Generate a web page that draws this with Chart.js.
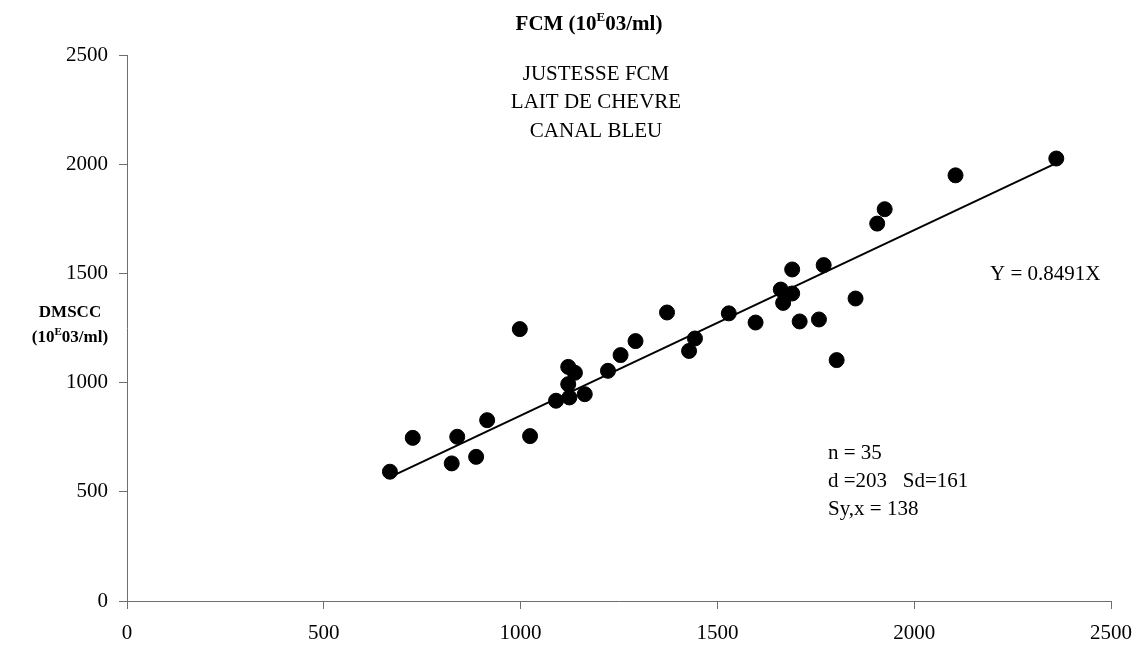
<!DOCTYPE html>
<html lang="fr">
<head>
  <meta charset="UTF-8" />
  <title>Justesse FCM - lait de chèvre</title>
  <script src="https://cdn.jsdelivr.net/npm/chart.js"></script>
  <style>
    html, body {
      margin: 0;
      padding: 0;
      background: #fff;
    }
    canvas {
      display: block;
    }
  </style>
</head>
<body>
  <canvas id="fcmChart" width="1144" height="648"></canvas>

  <script>
    // valeurs (FCM en x, DMSCC en y, 10E03/ml)
    const fcm = [668, 726, 825, 839, 887, 915, 998, 1024, 1090, 1121, 1138, 1121,
      1124, 1163, 1222, 1254, 1292, 1372, 1443, 1428, 1529, 1597, 1661, 1690,
      1690, 1667, 1709, 1758, 1770, 1851, 1803, 1906, 1925, 2105, 2361];
    const dmscc = [592, 747, 630, 752, 660, 828, 1245, 755, 917, 1072, 1045, 993,
      932, 947, 1054, 1126, 1190, 1321, 1202, 1145, 1317, 1275, 1426, 1518,
      1408, 1365, 1280, 1289, 1538, 1385, 1103, 1728, 1794, 1949, 2026];

    // droite Y = 0.8491X, du premier au dernier point
    const droiteX = [668, 2361];
    const droiteY = [567, 2005];

    const axisTicks = [0, 500, 1000, 1500, 2000, 2500];
    const infoLines = ['JUSTESSE FCM', 'LAIT DE CHEVRE', 'CANAL BLEU'];
    const statLines = ['n = 35', 'd =203   Sd=161', 'Sy,x = 138'];
    const equation = 'Y = 0.8491X';

    const serif = '"Liberation Serif", "Times New Roman", serif';

    // texte avec un "E" en exposant
    function drawSup(ctx, before, sup, after, cx, cy, size) {
      const big = 'bold ' + size + 'px ' + serif;
      const small = 'bold ' + Math.round(size * 0.62) + 'px ' + serif;
      ctx.font = big;
      const w1 = ctx.measureText(before).width;
      const w3 = ctx.measureText(after).width;
      ctx.font = small;
      const w2 = ctx.measureText(sup).width;
      let x = cx - (w1 + w2 + w3) / 2;
      ctx.textAlign = 'left';
      ctx.textBaseline = 'middle';
      ctx.font = big;
      ctx.fillText(before, x, cy);
      x += w1;
      ctx.font = small;
      ctx.fillText(sup, x, cy - size * 0.33);
      x += w2;
      ctx.font = big;
      ctx.fillText(after, x, cy);
    }

    const textPlugin = {
      id: 'textes',
      afterDraw(chart) {
        const ctx = chart.ctx;
        ctx.save();
        ctx.fillStyle = '#000';

        // titre
        drawSup(ctx, 'FCM (10', 'E', '03/ml)', 589, 25, 21);

        // titre axe y
        ctx.font = 'bold 17px ' + serif;
        ctx.textAlign = 'center';
        ctx.textBaseline = 'middle';
        ctx.fillText('DMSCC', 70, 313);
        drawSup(ctx, '(10', 'E', '03/ml)', 70, 338, 17);

        ctx.font = '21px ' + serif;
        ctx.textAlign = 'center';
        ctx.textBaseline = 'middle';
        infoLines.forEach((t, i) => ctx.fillText(t, 596, 74 + i * 28.5));

        ctx.textAlign = 'left';
        statLines.forEach((t, i) => ctx.fillText(t, 828, 453 + i * 28));
        ctx.fillText(equation, 990, 274);

        ctx.restore();
      }
    };

    const axisColor = '#6e6e6e';
    const tickFont = { family: serif, size: 21 };

    const ctx = document.getElementById('fcmChart').getContext('2d');
    new Chart(ctx, {
      type: 'scatter',
      data: {
        datasets: [
          {
            label: 'Droite',
            type: 'line',
            data: droiteX.map((x, i) => ({ x: x, y: droiteY[i] })),
            borderColor: '#000',
            borderWidth: 2,
            pointRadius: 0,
            fill: false
          },
          {
            label: 'Echantillons',
            data: fcm.map((x, i) => ({ x: x, y: dmscc[i] })),
            backgroundColor: '#000',
            borderColor: '#000',
            pointRadius: 7.5,
            pointHoverRadius: 7.5
          }
        ]
      },
      options: {
        responsive: false,
        animation: false,
        devicePixelRatio: 1,
        layout: {
          padding: { top: 55, right: 32, bottom: 0, left: 0 }
        },
        plugins: {
          legend: { display: false },
          tooltip: { enabled: false }
        },
        scales: {
          x: {
            type: 'linear',
            min: 0,
            max: 2500,
            afterBuildTicks: s => { s.ticks = axisTicks.map(v => ({ value: v })); },
            afterFit: s => { s.height = 47; },
            ticks: { color: '#000', font: tickFont, padding: 12, maxRotation: 0, callback: v => String(v) },
            grid: { drawOnChartArea: false, drawTicks: true, tickLength: 8, color: axisColor },
            border: { display: true, color: axisColor, width: 1 }
          },
          y: {
            type: 'linear',
            min: 0,
            max: 2500,
            afterBuildTicks: s => { s.ticks = axisTicks.map(v => ({ value: v })); },
            afterFit: s => { s.width = 127; },
            ticks: { color: '#000', font: tickFont, padding: 11, callback: v => String(v) },
            grid: { drawOnChartArea: false, drawTicks: true, tickLength: 8, color: axisColor },
            border: { display: true, color: axisColor, width: 1 }
          }
        }
      },
      plugins: [textPlugin]
    });
  </script>
</body>
</html>
